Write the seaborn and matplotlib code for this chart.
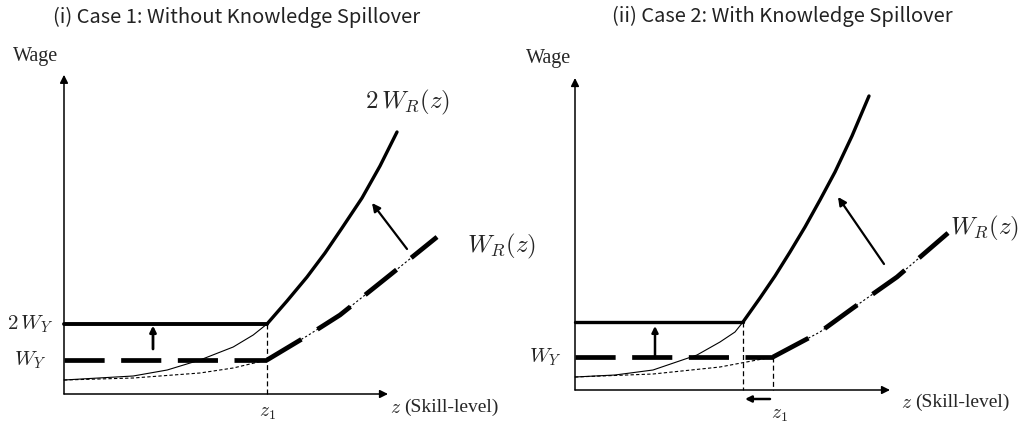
import matplotlib
matplotlib.use("Agg")
import matplotlib.pyplot as plt
import seaborn as sns
import pandas as pd

# ---------------- data (diagram units) ----------------
# Panel (i): Without knowledge spillover
z1_i = 5.075
wy_i = 0.85
wy2_i = 1.75
low_z_i = [0, 1.73, 3.4, 4.23, 5.075]
low_w_i = [0.35, 0.40, 0.525, 0.65, 0.85]
thin_z_i = [0, 1.73, 2.58, 3.4, 4.23, 4.73, 5.075]
thin_w_i = [0.35, 0.45, 0.6, 0.85, 1.175, 1.475, 1.75]
hi_z_i = [5.075, 5.575, 6.075, 6.525, 6.95, 7.45, 7.9, 8.325]
hi_w_i = [1.75, 2.325, 2.925, 3.525, 4.15, 4.9, 5.7, 6.55]
wr_z_i = [5.075, 6.075, 6.9, 8.15, 9.325]
wr_w_i = [0.85, 1.45, 1.975, 2.975, 3.925]

# Panel (ii): With knowledge spillover
z1_ii = 4.95
z1new_ii = 4.2
wy_ii = 0.825
wy2_ii = 1.7
low_z_ii = [0, 1.95, 3.625, 4.95]
low_w_ii = [0.325, 0.40, 0.575, 0.825]
thin_z_ii = [0, 1.0, 1.95, 3.05, 3.625, 4.0, 4.2]
thin_w_ii = [0.325, 0.375, 0.5, 0.875, 1.2, 1.45, 1.7]
hi_z_ii = [4.2, 4.625, 5.0, 5.375, 5.75, 6.125, 6.5, 6.925, 7.35]
hi_w_ii = [1.7, 2.3, 2.85, 3.45, 4.075, 4.75, 5.45, 6.35, 7.35]
wr_z_ii = [4.95, 6.125, 6.95, 8.05, 9.325]
wr_w_ii = [0.825, 1.45, 2.05, 2.825, 3.925]

titles = ["(i) Case 1: Without Knowledge Spillover",
          "(ii) Case 2: With Knowledge Spillover"]

# ---------------- style ----------------
sns.set_theme(style="white")
plt.rcParams["mathtext.fontset"] = "cm"
plt.rcParams["font.family"] = ["Noto Sans CJK KR", "DejaVu Sans"]

W, H = 1020, 426
fig = plt.figure(figsize=(W / 100, H / 100), dpi=100)
fig.patch.set_facecolor("white")

def px_axes(x0, y0):
    # origin pixel (x0, y0); 40 px per unit; 11 x 8 units
    return fig.add_axes([x0 / W, (H - y0) / H, 440 / W, 320 / H])

ax1 = px_axes(64, 394)
ax2 = px_axes(575, 390)
for ax in (ax1, ax2):
    ax.set_xlim(0, 11)
    ax.set_ylim(0, 8)
    ax.axis("off")

THICK = 2.8
THIN = 0.8
BLACK = "black"
serif = {"family": ["Liberation Serif", "DejaVu Serif"]}

def line(ax, xs, ys, **kw):
    df = pd.DataFrame({"z": xs, "w": ys})
    sns.lineplot(data=df, x="z", y="w", ax=ax, sort=False, estimator=None,
                 color=BLACK, clip_on=False, **kw)

def arrow(ax, xy_from, xy_to, lw=1.3, head=10):
    ax.annotate("", xy=xy_to, xytext=xy_from,
                arrowprops=dict(arrowstyle="-|>", color=BLACK, lw=lw,
                                mutation_scale=head, shrinkA=0, shrinkB=0),
                annotation_clip=False)

def panel(ax, xend, yend, z1, wy, wy2, low_z, low_w, thin_z, thin_w,
          hi_z, hi_w, wr_z, wr_w):
    # axes
    arrow(ax, (0, 0), (xend, 0), lw=1.1, head=12)
    arrow(ax, (0, 0), (0, yend), lw=1.1, head=12)
    # thin curves below kink
    line(ax, low_z, low_w, lw=THIN, linestyle=(0, (3, 2)))
    line(ax, thin_z, thin_w, lw=THIN)
    # W_R(z) dash-dot: thin dotted base + thick dashes
    line(ax, wr_z, wr_w, lw=THIN, linestyle=(0, (2, 2)))
    line(ax, wr_z, wr_w, lw=THICK + 0.6, linestyle=(0, (8.5, 4.0)))
    # 2W_R(z) thick solid
    line(ax, hi_z, hi_w, lw=THICK - 0.4)
    # horizontal wage levels
    line(ax, [0, z1], [wy, wy], lw=THICK + 0.6, linestyle=(0, (8.5, 3.5)))
    return ax

# ---------------- panel (i) ----------------
panel(ax1, 8.1, 7.98, z1_i, wy_i, wy2_i, low_z_i, low_w_i, thin_z_i, thin_w_i,
      hi_z_i, hi_w_i, wr_z_i, wr_w_i)
line(ax1, [0, z1_i], [wy2_i, wy2_i], lw=THICK)
line(ax1, [z1_i, z1_i], [wy2_i, 0], lw=0.9, linestyle=(0, (4, 2.5)))
arrow(ax1, (2.225, 1.125), (2.225, wy2_i - 0.04), lw=2.0, head=9)
arrow(ax1, (8.575, 3.625), (7.7, 4.775), lw=1.6, head=12)

# ---------------- panel (ii) ----------------
panel(ax2, 7.875, 7.8, z1_ii, wy_ii, wy2_ii, low_z_ii, low_w_ii, thin_z_ii, thin_w_ii,
      hi_z_ii, hi_w_ii, wr_z_ii, wr_w_ii)
line(ax2, [0, z1new_ii], [wy2_ii, wy2_ii], lw=THICK - 0.4)
line(ax2, [z1new_ii, z1new_ii], [wy2_ii, 0], lw=0.9, linestyle=(0, (4, 2.5)))
line(ax2, [z1_ii, z1_ii], [wy_ii, 0], lw=0.9, linestyle=(0, (4, 2.5)))
arrow(ax2, (2.0, wy_ii), (2.0, 1.6), lw=1.8, head=9)
arrow(ax2, (4.875, -0.225), (4.25, -0.225), lw=1.8, head=9)
arrow(ax2, (7.725, 3.15), (6.575, 4.825), lw=1.6, head=12)

# ---------------- text ----------------
fig.text(237 / W, 1 - 17 / H, titles[0], ha="center", va="center", fontsize=14.5,
         color="#222222")
fig.text(782 / W, 1 - 16 / H, titles[1], ha="center", va="center", fontsize=14.5,
         color="#222222")

# panel (i) labels
ax1.text(-0.7, 8.45, "Wage", ha="center", va="center", fontsize=14.5, **serif)
ax1.text(-0.85, wy2_i, r"$2\,W_Y$", ha="center", va="center", fontsize=15)
ax1.text(-0.85, wy_i, r"$W_Y$", ha="center", va="center", fontsize=15)
ax1.text(z1_i, -0.45, r"$z_1$", ha="center", va="center", fontsize=14)
ax1.text(8.15, -0.33, r"$z$", ha="left", va="center", fontsize=14)
ax1.text(8.5, -0.33, "(Skill-level)", ha="left", va="center", fontsize=14, **serif)
ax1.text(8.6, 7.3, r"$2\,W_R(z)$", ha="center", va="center", fontsize=18)
ax1.text(10.95, 3.7, r"$W_R(z)$", ha="center", va="center", fontsize=18)

# panel (ii) labels
ax2.text(-0.65, 8.275, "Wage", ha="center", va="center", fontsize=14.5, **serif)
ax2.text(-0.75, wy_ii, r"$W_Y$", ha="center", va="center", fontsize=15)
ax2.text(5.1, -0.58, r"$z_1$", ha="center", va="center", fontsize=14)
ax2.text(8.15, -0.32, r"$z$", ha="left", va="center", fontsize=14)
ax2.text(8.5, -0.32, "(Skill-level)", ha="left", va="center", fontsize=14, **serif)
ax2.text(10.25, 4.05, r"$W_R(z)$", ha="center", va="center", fontsize=18)

fig.savefig("out.png", dpi=100, facecolor="white")
